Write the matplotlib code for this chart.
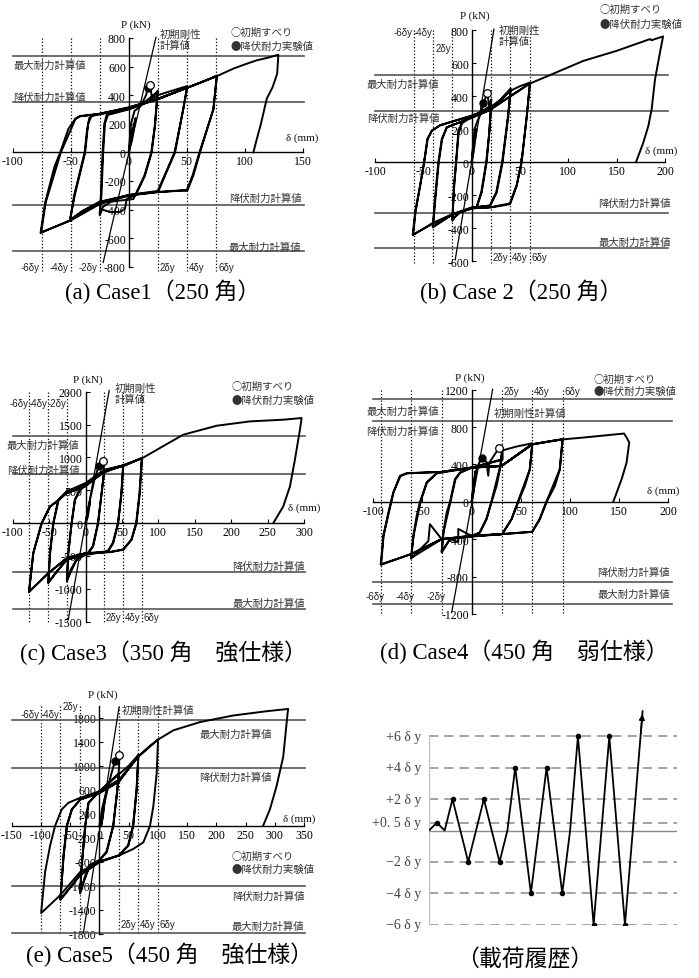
import matplotlib
matplotlib.use('Agg')
import matplotlib.pyplot as plt

plt.rcParams['font.family'] = ['Liberation Serif', 'Noto Sans CJK JP']
plt.rcParams['axes.unicode_minus'] = False

# ---------------- data ----------------
# hysteresis paths: (delta mm, P kN)
case1_path = [
    (0, 0), (3, 150), (6, 240), (3, 90), (0, 0),
    (2, 200), (5, 290), (10, 320), (15, 400), (16.4, 448), (18.4, 470), (20, 385), (23, 410), (25, 432),
    (22.7, 186), (19.8, 0), (14, -163), (6, -300), (-1.7, -324), (-3.2, -394), (-7.5, -417), (-16, -417), (-23, -400), (-25, -440),
    (-24, -300), (-22.5, 0), (-21, 200), (-19, 262), (-10, 285), (0, 305), (12, 340), (25, 425),
    (22.5, 186), (19.5, 0), (13.5, -163), (4, -327), (-5, -335), (-15, -345), (-22, -380), (-25, -430),
    (-23.5, -300), (-22, 0), (-20.5, 200), (-18, 262), (0, 300), (12, 335), (25, 400),
    (35, 425), (45, 450), (50.5, 464),
    (47, 303), (40, 0), (31.3, -163), (25.5, -275), (10, -290), (0, -300), (-25, -345), (-40, -410), (-50.6, -476),
    (-47, -300), (-41, -100), (-38, 0), (-36, 150), (-34, 240), (-30, 262), (-20, 278), (0, 310), (25, 372), (40, 420), (50.5, 458),
    (47, 300), (39.5, 0), (31, -160), (25, -270), (0, -298), (-25, -350), (-40, -415), (-50.5, -470),
    (-46.5, -300), (-37.5, 0), (-35, 200), (-32, 255), (-20, 274), (0, 308), (25, 370), (50, 452),
    (60, 482), (70, 515), (76, 538),
    (73, 303), (61.5, 0), (55.7, -163), (50.5, -268), (45.7, -266), (24, -277), (0, -300), (-25, -358), (-50.6, -476), (-76, -564),
    (-72, -350), (-64, -100), (-59, 0), (-52, 165), (-46, 235), (-42, 254), (-25, 270), (0, 315), (25, 375), (50, 450), (76, 534),
    (73, 300), (61, 0), (55, -163), (50, -265), (24, -280), (0, -302), (-25, -362), (-50.5, -478), (-75.5, -560),
    (-71.5, -350), (-58.5, 0), (-46, 232), (-42, 252), (-25, 268), (0, 312), (25, 374), (50, 450), (76, 533),
    (90, 585), (100, 615), (110, 643), (120, 662), (129, 683),
    (128, 550), (124, 455), (119, 375), (114, 200), (110, 80), (107.5, 0),
]
case2_path = [
    (0, 0), (2, 120), (5, 200), (2, 60), (0, 0),
    (3, 200), (6, 250), (10, 300), (12, 357), (16.2, 416), (18, 345), (20.3, 380),
    (18.3, 180), (15.5, 0), (10.3, -184), (5.2, -274), (-5, -290), (-12, -305), (-17, -330), (-20, -355),
    (-18.3, -143), (-16.2, 0), (-13.8, 180), (-10.3, 240), (0, 280), (10, 305), (20.3, 345),
    (18, 170), (15, 0), (10, -180), (5, -270), (-12, -300), (-20, -345),
    (-18, -140), (-16, 0), (-13.5, 175), (-10, 235), (0, 275), (20, 335),
    (30, 380), (40.3, 446),
    (37.9, 280), (32, 0), (25.9, -184), (19, -264), (0, -274), (-20, -315), (-40.3, -395),
    (-38, -224), (-34.5, 0), (-31, 139), (-25.9, 210), (0, 270), (20.3, 320), (40.3, 440),
    (37.5, 275), (31.5, 0), (25.5, -180), (19, -262), (0, -276), (-20, -318), (-40, -390),
    (-37.5, -220), (-34, 0), (-30.5, 140), (-25.5, 212), (0, 268), (20, 318), (40, 432),
    (50, 460), (60.3, 482),
    (57, 280), (51.7, 0), (46.6, -143), (39.7, -254), (20.3, -274), (0, -280), (-20, -315), (-40.3, -368), (-61, -442),
    (-58.6, -305), (-53.4, -143), (-49.3, 0), (-45.9, 139), (-41.4, 190), (-32.8, 222), (-22.4, 242), (0, 282), (20, 322), (40, 400), (60.3, 478),
    (57, 276), (51.5, 0), (46.5, -140), (39.5, -250), (20, -272), (0, -278), (-20, -318), (-40, -372), (-60.5, -438),
    (-58, -300), (-49, 0), (-45.5, 140), (-41, 192), (-32.5, 224), (0, 280), (20, 320), (40, 398), (60.3, 476),
    (81, 527), (115.5, 613), (150, 674), (184.5, 745), (186, 738), (198, 761),
    (194.8, 664), (189.7, 502), (186.2, 321), (182.8, 220), (177.6, 119), (170, 0),
]
case3_path = [
    (0, 0), (3, 170), (6.4, 330), (3, 90), (0, 0),
    (4, 250), (8, 450), (12, 650), (17.9, 863), (24.3, 939), (25.6, 790),
    (22, 457), (17.4, 0), (10.5, -355), (3.7, -457), (-12.4, -558), (-20, -700), (-25.6, -888),
    (-23.8, -457), (-19.2, 0), (-14.7, 355), (-7.8, 508), (0, 584), (25.6, 787),
    (22, 440), (17, 0), (10, -350), (3.5, -450), (-12, -550), (-25.6, -870),
    (-23.5, -450), (-19, 0), (-14.5, 350), (-7.5, 500), (0, 575), (25.6, 770),
    (40, 830), (51.7, 878),
    (49.5, 457), (44.9, 0), (38, -305), (31, -431), (0, -482), (-26, -558), (-40, -740), (-51.3, -914),
    (-49, -457), (-44.4, 0), (-37.5, 355), (-26, 482), (0, 609), (25.6, 812), (51.7, 878),
    (49, 440), (44.5, 0), (37.5, -300), (30.5, -425), (0, -475), (-26, -560), (-51, -900),
    (-48.5, -450), (-44, 0), (-37, 350), (-26, 475), (0, 600), (25.6, 800), (51.7, 865),
    (65, 930), (77.4, 990),
    (74.6, 457), (70, 0), (63.2, -254), (51.7, -406), (33.4, -442), (0, -457), (-26, -533), (-51.3, -761), (-77.8, -1051),
    (-71.9, -457), (-60.4, 0), (-49, 254), (-39.8, 330), (-26, 457), (-7.8, 533), (25.6, 800), (51.7, 880), (77.4, 990),
    (74, 450), (69.5, 0), (63, -250), (51.5, -400), (33, -440), (0, -455), (-26, -535), (-51, -765), (-77.5, -1040),
    (-71.5, -450), (-60, 0), (-48.5, 250), (-39.5, 328), (-26, 455), (0, 560), (25.6, 790), (51.7, 875), (77.4, 985),
    (102, 1142), (134, 1345), (180, 1482), (225.7, 1548), (271.5, 1574), (296.7, 1599),
    (294.4, 1421), (287.5, 964), (280.7, 558), (271.5, 254), (257.8, 0),
]
case4_path = [
    (0, 0), (2, 200), (4, 330), (2, 100), (0, 0),
    (3, 250), (6, 380), (10.2, 466), (15, 430), (16.9, 280), (18, 420), (27.8, 576), (31.2, 570),
    (29.5, 385), (25.4, 171), (20.3, 0), (15.3, -185), (8.5, -328), (0, -364), (-13.6, -290), (-13.6, -430), (-22, -399), (-30.5, -542),
    (-28.8, -328), (-25.4, -114), (-22, 0), (-17, 242), (-11.9, 314), (0, 367), (31.2, 456), (31.2, 560),
    (29, 380), (20, 0), (15, -180), (8, -330), (0, -366), (-22, -400), (-30.5, -530),
    (-28.5, -320), (-21.5, 0), (-16.5, 240), (-11.5, 312), (0, 365), (31.2, 450), (31.2, 550),
    (45, 590), (61.7, 627),
    (59.3, 349), (54.2, 171), (47.5, 0), (40.7, -185), (31.2, -346), (0, -371), (-30.5, -399), (-42.4, -239), (-44, -420), (-61.7, -606),
    (-59.3, -364), (-55.9, -150), (-52.5, 0), (-45.8, 207), (-35.6, 307), (-30.5, 321), (0, 367), (30.5, 385), (61.7, 620),
    (59, 345), (47, 0), (40.5, -185), (31, -344), (0, -370), (-30.5, -400), (-61.5, -600),
    (-59, -360), (-52, 0), (-45.5, 205), (-35.5, 305), (0, 365), (30.5, 383), (61.7, 615),
    (80, 650), (92.5, 670),
    (89.8, 349), (84.7, 171), (76.3, 0), (69.5, -185), (61.7, -321), (30.5, -346), (0, -364), (-30.5, -399), (-61.7, -560), (-92.5, -674),
    (-89.8, -364), (-84.7, -114), (-79.7, 100), (-72.9, 278), (-66, 307), (-30.5, 321), (0, 367), (30.5, 385), (61.7, 617), (92.5, 670),
    (89.5, 345), (76, 0), (69, -185), (61.5, -320), (30.5, -345), (0, -362), (-30.5, -398), (-61.5, -558), (-92, -668),
    (-89.5, -360), (-79.5, 100), (-72.5, 275), (-65.5, 305), (-30.5, 320), (0, 366), (30.5, 384), (61.7, 615), (92.5, 668),
    (113.6, 688), (147.5, 724), (155, 731), (157.6, 688), (160.3, 635), (159.3, 560), (157.6, 421), (152.5, 242), (147.5, 100), (144, 0),
]
case5_path = [
    (0, 0), (5, 300), (10, 500), (6, 150), (3, 0),
    (8, 350), (15, 650), (20, 850), (26.8, 1086), (34.2, 1179), (33.6, 987),
    (30.8, 603), (23.9, 0), (12.5, -439), (0, -576), (-16, -658), (-25, -850), (-33, -1124),
    (-30.2, -658), (-24.5, 0), (-18.8, 384), (0, 576), (33.6, 877),
    (30.5, 590), (23.5, 0), (12, -430), (0, -570), (-16, -650), (-33, -1100),
    (-30, -650), (-24, 0), (-18.5, 380), (0, 570), (33.6, 860),
    (50, 1000), (66.7, 1179),
    (63.8, 603), (58, 0), (49.6, -329), (33.6, -493), (0, -603), (-33, -822), (-66.7, -1234),
    (-61.5, -493), (-55.8, 0), (-47.3, 274), (-33, 439), (0, 548), (33.6, 740), (66.7, 1179),
    (63.5, 600), (57.5, 0), (49, -325), (33.6, -490), (0, -600), (-33, -820), (-66.5, -1220),
    (-61, -490), (-55.5, 0), (-47, 270), (-33, 436), (0, 545), (33.6, 735), (66.7, 1160),
    (85, 1320), (100.3, 1436),
    (98, 877), (92.3, 329), (86.6, 0), (75.2, -274), (58, -384), (33.6, -493), (0, -592), (-33, -768), (-66.7, -1151), (-99.7, -1453),
    (-92.9, -768), (-84.3, -329), (-75.8, 0), (-64.4, 274), (-53, 384), (-33, 466), (0, 576), (33.6, 768), (66.7, 1151), (100.3, 1436),
    (126.5, 1590), (172, 1727), (229, 1837), (286, 1908), (323, 1946),
    (322, 1880), (314.5, 1151), (303, 658), (291.7, 274), (280, 0),
]

# +-2,4,6 delta_y displacements (mm)
case1_dy = [-75, -50, -25, 25, 50, 75]
case2_dy = [-60, -40, -20, 20, 40, 60]
case3_dy = [-77, -51, -25.5, 25.5, 51, 77]
case4_dy = [-92.6, -61.8, -30.5, 31.2, 61.7, 92.6]
case5_dy = [-100, -67, -33, 33.5, 66.5, 100]

# calculated strengths: [max+, yield+, yield-, max-] (kN)
case1_calc = [676, 354, -368, -692]
case2_calc = [526, 310, -309, -521]
case3_calc = [1321, 742, -744, -1312]
case4_calc = [1100, 865, -860, -1095]
case5_calc = [1755, 970, -1003, -1781]

# initial stiffness line end points
case1_k0 = [(-22, -770), (23.5, 805)]
case2_k0 = [(-17, -590), (23.1, 805)]
case3_k0 = [(-23.8, -1472), (32.5, 2020)]
case4_k0 = [(-20.3, -1184), (21.4, 1205)]
case5_k0 = [(-27.4, -1782), (33.6, 1974)]

# (initial slip, experimental yield) points
case1_marks = [(18.4, 470), (16.4, 448)]
case2_marks = [(16.2, 416), (12, 357)]
case3_marks = [(24.3, 939), (17.9, 863)]
case4_marks = [(27.8, 576), (10.2, 466)]
case5_marks = [(34.2, 1179), (26.8, 1086)]

# loading history
load_t = [0, 1, 2, 3, 5, 7, 9, 10, 11, 13, 15, 17, 18, 19, 21, 23, 25, 26, 27.25]
load_v = [0, 0.5, 0, 2, -2, 2, -2, 0, 4, -4, 4, -4, 0, 6, -6, 6, -6, 0, 7.6]
peak_t = [1, 3, 5, 7, 9, 11, 13, 15, 17, 19, 21, 23, 25]
peak_v = [0.5, 2, -2, 2, -2, 4, -4, 4, -4, 6, -6, 6, -6]
load_levels = [6, 4, 2, 0.5, -2, -4, -6]
load_labels = ['+6 δ y', '+4 δ y', '+2 δ y', '+0. 5 δ y', '−2 δ y', '−4 δ y', '−6 δ y']

MAXT = '最大耐力計算値'
YLDT = '降伏耐力計算値'

# ---------------- drawing ----------------
W, H = 699, 979
fig = plt.figure(figsize=(W / 100, H / 100), dpi=100)


def add_ax(l, r, t, b, xlim, ylim):
    ax = fig.add_axes([l / W, 1 - b / H, (r - l) / W, (b - t) / H])
    ax.set_xlim(xlim)
    ax.set_ylim(ylim)
    ax.patch.set_alpha(0)
    return ax


JP = dict(family=['Noto Sans CJK JP'], fontsize=7.5, color='#333333')
DY = dict(family=['Liberation Sans'], fontsize=7, color='#222222')
SER = dict(fontsize=8, color='#111111')


def hysteresis(ax, path, xticks, yticks, dy, dy_span, calc, calc_span, k0, marks):
    ax.spines[['top', 'right']].set_visible(False)
    ax.spines['left'].set_position(('data', 0))
    ax.spines['bottom'].set_position(('data', 0))
    for s in ('left', 'bottom'):
        ax.spines[s].set_linewidth(1.0)
    ax.set_xticks(xticks)
    ax.set_yticks(yticks)
    ax.tick_params(direction='in', length=3, width=0.8, labelsize=8.5, pad=2)
    for x in dy:
        ax.plot([x, x], dy_span, ls=':', color='k', lw=0.9, clip_on=False)
    for c in calc:
        ax.plot(calc_span, [c, c], color='#555555', lw=1.2, clip_on=False)
    ax.plot([k0[0][0], k0[1][0]], [k0[0][1], k0[1][1]], color='k', lw=0.9, clip_on=False)
    ax.plot([p[0] for p in path], [p[1] for p in path], color='k', lw=1.4,
            clip_on=False, solid_joinstyle='round')
    ax.plot(*marks[1], 'o', color='k', ms=5, zorder=5)
    ax.plot(*marks[0], 'o', mfc='white', mec='k', ms=5.5, mew=0.9, zorder=6)


def legend(ax, x, y1, y2):
    ax.text(x, y1, '○初期すべり', ha='left', va='center', **JP)
    ax.text(x, y2, '●降伏耐力実験値', ha='left', va='center', **JP)


# (a) Case1
ax = add_ax(12.7, 302.7, 39, 267.7, (-100, 150), (-800, 800))
hysteresis(ax, case1_path, range(-100, 151, 50), range(-800, 801, 200), case1_dy, (800, -830),
           case1_calc, (-100, 151), case1_k0, case1_marks)
ax.text(6, 900, 'P (kN)', ha='center', va='center', **SER)
ax.text(136, 105, 'δ (mm)', ha='left', va='center', **SER)
ax.text(27, 862, '初期剛性\n計算値', ha='left', va='top', linespacing=1.1, **JP)
legend(ax, 87.5, 840, 745)
ax.text(-99.5, 613, MAXT, ha='left', va='center', **JP)
ax.text(-99.5, 389, YLDT, ha='left', va='center', **JP)
ax.text(149, -320, YLDT, ha='right', va='center', **JP)
ax.text(149, -657, MAXT, ha='right', va='center', **JP)
for x, s in zip(case1_dy, ['-6δy', '-4δy', '-2δy', '2δy', '4δy', '6δy']):
    ax.text(x - 2 if x < 0 else x + 2, -800, s, ha='right' if x < 0 else 'left', va='center', **DY)

# (b) Case 2
ax = add_ax(375, 665, 31, 262.3, (-100, 200), (-600, 800))
hysteresis(ax, case2_path, range(-100, 201, 50), range(-600, 801, 200), case2_dy, (800, -610),
           case2_calc, (-100, 203), case2_k0, case2_marks)
ax.text(3.4, 887, 'P (kN)', ha='center', va='center', **SER)
ax.text(179, 70, 'δ (mm)', ha='left', va='center', **SER)
ax.text(27.7, 830, '初期剛性\n計算値', ha='left', va='top', linespacing=1.1, **JP)
legend(ax, 132.6, 927, 836)
ax.text(-108.6, 473, MAXT, ha='left', va='center', **JP)
ax.text(-108.6, 268, YLDT, ha='left', va='center', **JP)
ax.text(206, -247, YLDT, ha='right', va='center', **JP)
ax.text(206, -479, MAXT, ha='right', va='center', **JP)
ax.text(-61.5, 786, '-6δy', ha='right', va='center', **DY)
ax.text(-40.8, 786, '-4δy', ha='right', va='center', **DY)
ax.text(-21.5, 689, '2δy', ha='right', va='center', **DY)
for x, s in zip(case2_dy[3:], ['2δy', '4δy', '6δy']):
    ax.text(x + 1.5, -576, s, ha='left', va='center', **DY)

# (c) Case3
ax = add_ax(12.7, 304, 392.7, 622.7, (-100, 300), (-1500, 2000))
hysteresis(ax, case3_path, range(-100, 301, 50), range(-1500, 2001, 500), case3_dy, (2000, -1520),
           case3_calc, (-100, 302), case3_k0, case3_marks)
ax.text(3.5, 2193, 'P (kN)', ha='center', va='center', **SER)
ax.text(278.5, 240, 'δ (mm)', ha='left', va='center', **SER)
ax.text(40.4, 2140, '初期剛性\n計算値', ha='left', va='top', linespacing=1.1, **JP)
legend(ax, 200.8, 2091, 1878)
ax.text(-108.3, 1189, MAXT, ha='left', va='center', **JP)
ax.text(-108.3, 813, YLDT, ha='left', va='center', **JP)
ax.text(301.5, -648, YLDT, ha='right', va='center', **JP)
ax.text(301.5, -1205, MAXT, ha='right', va='center', **JP)
for x, s in zip(case3_dy[:3], ['-6δy', '-4δy', '-2δy']):
    ax.text(x - 1, 1828, s, ha='right', va='center', **DY)
for x, s in zip(case3_dy[3:], ['2δy', '4δy', '6δy']):
    ax.text(x + 2.5, -1434, s, ha='left', va='center', **DY)

# (d) Case4
ax = add_ax(373.3, 668.3, 390.7, 615, (-100, 200), (-1200, 1200))
hysteresis(ax, case4_path, range(-100, 201, 50), range(-1200, 1201, 400), case4_dy, (1200, -1200),
           case4_calc, (-100, 204), case4_k0, case4_marks)
ax.text(-1.7, 1333, 'P (kN)', ha='center', va='center', **SER)
ax.text(178, 130, 'δ (mm)', ha='left', va='center', **SER)
ax.text(22, 958, '初期剛性計算値', ha='left', va='center', **JP)
legend(ax, 123.7, 1314, 1189)
ax.text(-106.8, 975, MAXT, ha='left', va='center', **JP)
ax.text(-106.8, 761, YLDT, ha='left', va='center', **JP)
ax.text(201.7, -747, YLDT, ha='right', va='center', **JP)
ax.text(201.7, -985, MAXT, ha='right', va='center', **JP)
for x, s in zip(case4_dy[:3], ['-6δy', '-4δy', '-2δy']):
    ax.text(x + 4, -1003, s, ha='right', va='center', **DY)
for x, s in zip(case4_dy[3:], ['2δy', '4δy', '6δy']):
    ax.text(x + 1.5, 1189, s, ha='left', va='center', **DY)

# (e) Case5
ax = add_ax(11.7, 304, 706.7, 935, (-150, 350), (-1800, 2000))
hysteresis(ax, case5_path, range(-150, 351, 50), range(-1800, 1801, 400), case5_dy, (2000, -1800),
           case5_calc, (-150, 352), case5_k0, case5_marks)
ax.text(5.3, 2194, 'P (kN)', ha='center', va='center', **SER)
ax.text(314.4, 127, 'δ (mm)', ha='left', va='center', **SER)
ax.text(38.2, 1931, '初期剛性計算値', ha='left', va='center', **JP)
legend(ax, 226, -493, -712)
ax.text(172, 1536, MAXT, ha='left', va='center', **JP)
ax.text(170, 822, YLDT, ha='left', va='center', **JP)
ax.text(351, -1161, YLDT, ha='right', va='center', **JP)
ax.text(351, -1655, MAXT, ha='right', va='center', **JP)
ax.text(-102.7, 1854, '-6δy', ha='right', va='center', **DY)
ax.text(-68.5, 1854, '-4δy', ha='right', va='center', **DY)
ax.text(-36, 2002, '2δy', ha='right', va='center', **DY)
for x, s in zip(case5_dy[3:], ['2δy', '4δy', '6δy']):
    ax.text(x + 3, -1633, s, ha='left', va='center', **DY)

# (f) loading history
ax = add_ax(429, 676.7, 705.9, 925.7, (0, 31.6), (-6, 8))
ax.axis('off')
for v in load_levels:
    ax.plot([0, 31.6], [v, v], ls=(0, (6, 4)), color='#8a8a8a', lw=1.1)
ax.plot([0, 31.6], [0, 0], color='#8a8a8a', lw=1.0)
ax.plot([0, 0], [-6, 6], color='#c0c0c0', lw=1.0)
for v, s in zip(load_levels, load_labels):
    ax.text(-1.0, v, s, ha='right', va='center', fontsize=10, color='#444444',
            family=['Liberation Serif', 'Noto Sans CJK JP'])
ax.plot(load_t, load_v, color='k', lw=1.3)
ax.plot(peak_t, peak_v, 'o', color='k', ms=3)
ax.annotate('', xy=(load_t[-1], load_v[-1]), xytext=(27.0, 6.0),
            arrowprops=dict(arrowstyle='-|>', color='k', lw=1.2, mutation_scale=8))

# captions
CAP = dict(ha='center', va='center', fontsize=16.5, color='k')
fig.text(163 / W, 1 - 292 / H, '(a) Case1（250 角）', **CAP)
fig.text(521 / W, 1 - 292 / H, '(b) Case 2（250 角）', **CAP)
fig.text(163 / W, 1 - 653 / H, '(c) Case3（350 角　強仕様）', **CAP)
fig.text(524 / W, 1 - 652 / H, '(d) Case4（450 角　弱仕様）', **CAP)
fig.text(169 / W, 1 - 955 / H, '(e) Case5（450 角　強仕様）', **CAP)
fig.text(525 / W, 1 - 960 / H, '（載荷履歴）', **CAP)

fig.savefig('out.png', dpi=100)
